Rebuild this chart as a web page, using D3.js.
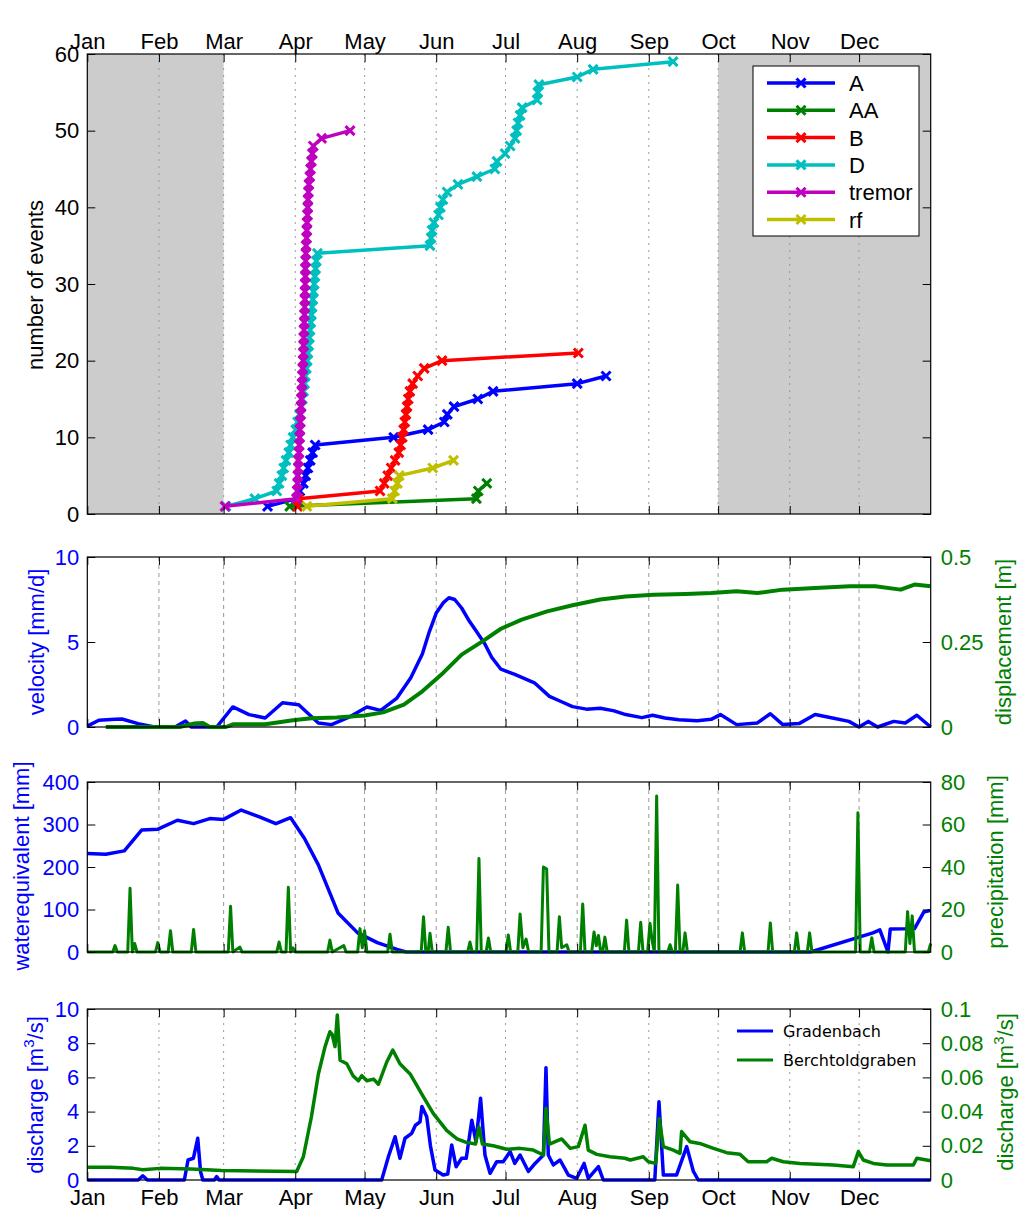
<!DOCTYPE html>
<html>
<head>
<meta charset="utf-8">
<script src="https://cdn.jsdelivr.net/npm/d3@7"></script>
<style>
body { margin: 0; background: #fff; }
text { font-family: "Liberation Sans", Arial, Helvetica, sans-serif; }
.tick text { font-size: 22px; }
.tick line { stroke: #000; }
</style>
</head>
<body>
<svg id="chart" width="1021" height="1209"></svg>
<script>
// ---- DATA ----
// x values are day of year (0 = 1 Jan)
var monthNames = ["Jan","Feb","Mar","Apr","May","Jun","Jul","Aug","Sep","Oct","Nov","Dec"];

// panel 1: event days, the count is cumulative
var seriesNames = ["A","AA","B","D","tremor","rf"];
var daysA = [78, 90.7, 92, 93.5, 94.5, 95.5, 96.5, 97.5, 98.6, 132.6, 147.5, 154.5, 155.8, 158.7, 169, 175.6, 212, 224.5];
var daysAA = [87.6, 168.4, 169.2, 172.9];
var daysB = [91, 91.4, 126.7, 128.5, 130, 131.5, 133.2, 134.8, 135.6, 136.3, 136.9, 137.4, 137.9, 138.4, 138.9, 139.6, 140.8, 143, 145.8, 153.5, 212.5];
var daysD = [60, 72.5, 82, 83, 84.2, 85, 86, 87.2, 88, 89,
             90.2, 91, 91.8, 92.5, 93.1, 93.6, 94, 94.4, 94.8, 95.2,
             95.5, 95.8, 96.1, 96.4, 96.7, 97, 97.3, 97.6, 97.9, 98.2,
             98.5, 98.8, 99.1, 99.6, 148.3, 148.8, 149.2, 150, 152, 152.8,
             153.9, 155.7, 160.4, 168.6, 176.4, 177.3, 180.8, 183, 185.1, 185.8,
             186.4, 187.3, 188.2, 194.7, 195, 195.4, 212, 218.9, 253.5];
var daysTremor = [59.6, 90.6, 90.8, 91, 91.1, 91.3, 91.4, 91.6, 91.7, 91.9,
                  92, 92.2, 92.3, 92.5, 92.6, 92.8, 92.9, 93.1, 93.2, 93.4,
                  93.5, 93.6, 93.7, 93.8, 93.9, 94, 94.1, 94.2, 94.2, 94.3,
                  94.4, 94.4, 94.5, 94.6, 94.7, 94.9, 95, 95.1, 95.3, 95.4,
                  95.5, 95.7, 95.9, 96.3, 96.6, 97, 97.4, 97.8, 101.4, 113.7];
var daysRf = [95, 132, 133, 134.2, 135, 149.5, 158.5];

// panel 2
var velocity = [[0,0.05],[5,0.4],[12,0.45],[15,0.47],[22,0.2],[29,0],[38,0],[42.5,0.35],[45,0],[56,0],
  [63,1.18],[70,0.73],[77,0.53],[84.5,1.43],[91.5,1.31],[100,0.24],[105.7,0.14],[114,0.63],[121,1.18],[127,0.98],
  [134,1.7],[140,2.9],[145,4.3],[148,5.6],[151,6.7],[154,7.3],[156.5,7.6],[159,7.5],[162,7],[165,6.3],
  [168,5.7],[172,4.9],[175,4.1],[179,3.4],[185,3.1],[193.5,2.6],[200,1.8],[205,1.5],[210,1.2],[216,1.05],
  [222,1.1],[228,0.95],[233,0.73],[240,0.55],[244.6,0.69],[250,0.53],[256,0.43],[264,0.37],[270,0.45],[274,0.73],
  [281,0.14],[290,0.24],[295.6,0.78],[301,0.14],[308,0.2],[315,0.73],[322.5,0.53],[329.6,0.33],[334,0],[338,0.33],
  [342,0],[349,0.33],[354,0.24],[359,0.69],[365,0]];
var displacement = [[8,0],[40,0],[46,0.01],[50,0.012],[53,0],[60,0],[63,0.008],[77,0.008],[89,0.02],[97,0.026],
  [108,0.028],[120,0.034],[128,0.043],[137,0.066],[145,0.105],[154,0.159],[162,0.213],[171,0.252],[179,0.289],[188,0.316],
  [199,0.34],[210,0.358],[222,0.375],[233,0.384],[245,0.389],[259,0.391],[270,0.394],[281,0.399],[290,0.394],[301,0.404],
  [315,0.409],[330,0.414],[341,0.414],[352,0.404],[358,0.419],[365,0.414]];

// panel 3
var waterEquivalent = [[0,232],[8,230],[16,238],[23.5,287],[30.6,289],[39,310],[46,302],[53,314],[59,312],[66.6,334],
  [74.5,318],[81.6,302],[88,316],[94,267],[100,205],[108.5,92],[117,45],[125.5,22],[134,6],[138,0],
  [313,0],[340,45],[343,52],[346.5,0],[347.5,54],[358,55],[362,94],[365,98]];
var precipitation = [[0,0],[11,0],[12,3],[13,0],[17.5,0],[18.5,30],[19.5,0],[20.5,4],[21.5,0],[29.5,0],[30.5,4.4],[31.5,0],
  [35,0],[36,10],[37,0],[45,0],[46,10.6],[47,0],[61,0],[62,21.5],[63,0],[66,2.3],[67,0],[82,0],[83,4.7],[84,0],
  [86,0],[87,30.5],[88,0],[89,2],[90,0],[104,0],[105,5.6],[106,0],[111,3],[112,0],[117,0],[118,11],[119,2],[120,10],[121,0],
  [130,0],[131,8.4],[132,0],[144.5,0],[145.5,16.6],[146.5,0],[147.5,0],[148.3,8.8],[149.3,0],[155.2,0],[156.2,11.6],[157.2,0],
  [164.6,0],[165.6,4.7],[166.6,0],[168.5,0],[169.5,44],[170.5,0],[172.6,0],[173.6,6.6],[174.6,0],[181.2,0],[182.2,8],[183.2,0],
  [186.3,0],[187.3,17.9],[188.5,2],[189.9,6.1],[191,0],[196.4,0],[197.4,40],[198.8,39],[199.8,0],[203.3,0],[204.3,16.6],
  [205.3,2],[207.5,3.4],[208.5,0],[213.4,0],[214.4,22.6],[215.4,0],[218.3,0],[219.3,9.4],[220.3,3],[221.2,7.8],[222.2,0],
  [223,0],[224,7],[225,0],[232.4,0],[233.4,15],[234.4,0],[238.5,0],[239.5,14],[240.5,0],[242.5,0],[243.5,13.5],[244.5,5],
  [245.4,0],[246.4,73.4],[247.4,0],[251.2,0],[252.2,3.4],[253.2,0],[254.5,0],[255.5,31.5],[256.5,0],[257.7,0],[258.7,9],
  [259.7,0],[282.5,0],[283.5,9],[284.5,0],[294.6,0],[295.6,13.7],[296.6,0],[306,0],[307,9],[308,0],[311.6,0],[312.6,9],
  [313.6,0],[332.5,0],[333.5,65.5],[334.5,0],[338.5,0],[339.5,6.7],[340.5,0],[354,0],[355,19],[356,4],[357,17],[358,0],
  [364,0],[365,4]];

// panel 4
var dischargeNames = ["Gradenbach","Berchtoldgraben"];
var gradenbach = [[0,0],[22,0],[24,0.25],[26,0],[42,0],[43.6,1.17],[45.9,1.27],[47.8,2.44],[49,0.5],[50,0],[55,0],[56,0.2],[57,0],
  [127.4,0],[130.3,1.36],[133.2,2.53],[135.3,1.27],[137.5,2.44],[140.4,2.73],[142,3.2],[144,3.4],[144.8,4.3],[146.9,3.7],
  [148.5,2],[150.5,0.58],[154,0.29],[156,0.35],[157.7,2.05],[159.6,0.78],[162,1.27],[164,1.27],[166.4,3.5],[168.2,2.24],
  [170.2,4.78],[172.1,1.46],[174.3,0.39],[177.2,1.07],[180,1.07],[183,1.66],[185,0.97],[187.3,1.46],[190.9,0.5],[193.8,0.97],
  [197.4,1.46],[198.5,6.57],[199.5,1.46],[201.7,0.88],[204.6,1.17],[208.2,0.29],[211.8,0.1],[215,0.97],[216.8,0.1],
  [221.2,0.78],[223.3,0],[245.6,0],[247.4,4.58],[249.3,0.29],[255,0.29],[259.4,1.95],[262.3,0.5],[264.4,0],[365,0]];
var berchtoldgraben = [[0,0.0075],[10,0.0075],[20,0.0068],[24,0.006],[31.5,0.0068],[45,0.0065],[58,0.0055],[90.6,0.005],
  [93.5,0.0136],[97,0.037],[100,0.062],[102.9,0.078],[105,0.0867],[106,0.085],[107.2,0.078],[108.2,0.0965],[109.4,0.07],
  [112.3,0.068],[115,0.061],[117.3,0.058],[118.8,0.061],[121,0.058],[123.9,0.059],[126,0.056],[129.6,0.069],[132.2,0.076],
  [135.3,0.068],[139.7,0.062],[145.4,0.0487],[149.7,0.039],[155.5,0.029],[160,0.024],[164,0.022],[168,0.021],[169.5,0.031],
  [171,0.021],[175.7,0.02],[181.5,0.018],[187.3,0.0185],[193,0.0175],[197.4,0.0146],[198.5,0.042],[200,0.021],[205.3,0.024],
  [209,0.0185],[212.5,0.0195],[215.4,0.032],[216.8,0.0175],[220.5,0.015],[226.2,0.0136],[232.7,0.0127],[235,0.0117],
  [240.6,0.0136],[242.8,0.0107],[246,0.0097],[247.5,0.036],[249.3,0.0195],[253.6,0.0175],[256.5,0.0156],[257.2,0.0283],
  [260.8,0.0224],[265,0.0214],[271,0.0185],[276.7,0.016],[282.5,0.015],[286,0.0107],[294,0.0107],[296.2,0.0127],
  [301.2,0.0107],[308.4,0.0097],[322.9,0.0088],[331.5,0.0078],[333.7,0.0166],[335.8,0.0117],[340.2,0.0097],[346,0.0088],
  [357.5,0.0088],[359,0.0127],[365,0.0113]];

// shaded winter periods (day ranges)
var shaded = [[0,59],[273,365]];

// ---- SETUP ----
var blue = "#0000ff", green = "#008000";
var seriesColors = {A:"#0000ff", AA:"#008000", B:"#ff0000", D:"#00bfbf", tremor:"#bf00bf", rf:"#bfbf00"};

var t0 = Date.UTC(2010, 0, 1);
function toDate(d){ return new Date(t0 + d*864e5); }

var svg = d3.select("#chart");
var x = d3.scaleUtc().domain([toDate(0), toDate(365)]).range([87.3, 930.7]);
var months = d3.utcMonth.range(toDate(0), toDate(365));

var panels = [
  {top:54, bottom:514},
  {top:557, bottom:727},
  {top:782, bottom:952},
  {top:1009, bottom:1180}
];

function monthLabel(d, i){ return monthNames[i]; }

//grid lines go under the data
function drawGrid(p, dash){
  svg.append("g").selectAll("line")
     .data(months.slice(1))
     .enter().append("line")
     .attr("x1", function(d){ return x(d); })
     .attr("x2", function(d){ return x(d); })
     .attr("y1", p.top).attr("y2", p.bottom)
     .attr("stroke", "#9a9a9a")
     .attr("stroke-width", 1)
     .attr("stroke-dasharray", dash);
}

//box + month ticks on top and bottom
function drawFrame(p, topLabels, bottomLabels){
  svg.append("rect")
     .attr("x", x.range()[0]).attr("y", p.top)
     .attr("width", x.range()[1]-x.range()[0])
     .attr("height", p.bottom-p.top)
     .attr("fill", "none").attr("stroke", "#000").attr("stroke-width", 1.2);

  var top = svg.append("g").attr("transform", "translate(0,"+p.top+")")
     .call(d3.axisTop(x).tickValues(months).tickSize(-8).tickSizeOuter(0).tickPadding(5)
       .tickFormat(topLabels ? monthLabel : ""));
  top.select(".domain").remove();

  var bot = svg.append("g").attr("transform", "translate(0,"+p.bottom+")")
     .call(d3.axisBottom(x).tickValues(months).tickSize(-8).tickSizeOuter(0).tickPadding(9)
       .tickFormat(bottomLabels ? monthLabel : ""));
  bot.select(".domain").remove();
  [top, bot].forEach(function(a){
    a.selectAll("text").attr("fill", "#000").style("font-size", "22px");
  });
}

function leftAxis(y, ticks, color, fmt){
  var g = svg.append("g").attr("transform", "translate("+x.range()[0]+",0)")
     .call(d3.axisLeft(y).tickValues(ticks).tickSize(-8).tickSizeOuter(0).tickPadding(8)
       .tickFormat(fmt || function(d){ return d; }));
  g.select(".domain").remove();
  g.selectAll("text").attr("fill", color);
}

function rightAxis(y, ticks, color, fmt){
  var g = svg.append("g").attr("transform", "translate("+x.range()[1]+",0)")
     .call(d3.axisRight(y).tickValues(ticks).tickSize(-8).tickSizeOuter(0).tickPadding(10)
       .tickFormat(fmt === undefined ? function(d){ return d; } : fmt));
  g.select(".domain").remove();
  g.selectAll("text").attr("fill", color);
}

function axisTitle(px, py, color, parts){
  var t = svg.append("text")
     .attr("transform", "translate("+px+","+py+") rotate(-90)")
     .attr("text-anchor", "middle")
     .attr("fill", color)
     .style("font-size", "22px");
  parts.forEach(function(s){
    if(s === "3"){
      t.append("tspan").attr("dy", -9).style("font-size", "15px").text("3");
    } else {
      t.append("tspan").attr("dy", s.charAt(0) === "/" ? 9 : 0).text(s);
    }
  });
}

function drawLine(data, y, color, width){
  var line = d3.line()
     .x(function(d){ return x(toDate(d[0])); })
     .y(function(d){ return y(d[1]); });
  svg.append("path")
     .datum(data)
     .attr("d", line)
     .attr("fill", "none")
     .attr("stroke", color)
     .attr("stroke-width", width)
     .attr("stroke-linejoin", "round");
}

var cross = "M-4.5,-4.5L4.5,4.5M-4.5,4.5L4.5,-4.5";

// ---- PANEL 1: cumulative events ----
var p1 = panels[0];
var y1 = d3.scaleLinear().domain([0, 60]).range([p1.bottom, p1.top]);

svg.append("g").selectAll("rect")
   .data(shaded).enter().append("rect")
   .attr("x", function(d){ return x(toDate(d[0])); })
   .attr("width", function(d){ return x(toDate(d[1])) - x(toDate(d[0])); })
   .attr("y", p1.top).attr("height", p1.bottom - p1.top)
   .attr("fill", "#cccccc");

drawGrid(p1, "2,5");

var eventDays = [daysA, daysAA, daysB, daysD, daysTremor, daysRf];
seriesNames.forEach(function(name, k){
  var pts = eventDays[k].map(function(d, i){ return [d, i + 1]; });
  drawLine(pts, y1, seriesColors[name], 3.5);
  svg.append("g").selectAll("path")
     .data(pts).enter().append("path")
     .attr("d", cross)
     .attr("transform", function(d){ return "translate("+x(toDate(d[0]))+","+y1(d[1])+")"; })
     .attr("fill", "none")
     .attr("stroke", seriesColors[name])
     .attr("stroke-width", 3);
});

drawFrame(p1, true, false);
leftAxis(y1, [0,10,20,30,40,50,60], "#000");
rightAxis(y1, [0,10,20,30,40,50,60], "#000", "");
axisTitle(43, 285, "#000", ["number of events"]);

//legend
var lg = svg.append("g").attr("transform", "translate(753,66)");
lg.append("rect").attr("width", 166).attr("height", 170)
  .attr("fill", "#fff").attr("stroke", "#000").attr("stroke-width", 1);
seriesNames.forEach(function(name, i){
  var ly = 17 + i*27.3;
  lg.append("line").attr("x1", 14).attr("x2", 82).attr("y1", ly).attr("y2", ly)
    .attr("stroke", seriesColors[name]).attr("stroke-width", 3.5);
  lg.append("path").attr("d", cross).attr("transform", "translate(48,"+ly+")")
    .attr("fill", "none").attr("stroke", seriesColors[name]).attr("stroke-width", 3);
  lg.append("text").attr("x", 96).attr("y", ly + 8).style("font-size", "22px").text(name);
});

// ---- PANEL 2: velocity / displacement ----
var p2 = panels[1];
var y2L = d3.scaleLinear().domain([0, 10]).range([p2.bottom, p2.top]);
var y2R = d3.scaleLinear().domain([0, 0.5]).range([p2.bottom, p2.top]);
drawGrid(p2, "4,4");
drawLine(velocity, y2L, blue, 3.5);
drawLine(displacement, y2R, green, 4);
drawFrame(p2, false, false);
leftAxis(y2L, [0,5,10], blue);
rightAxis(y2R, [0,0.25,0.5], green);
axisTitle(44, 642, blue, ["velocity [mm/d]"]);
axisTitle(1011, 642, green, ["displacement [m]"]);

// ---- PANEL 3: water equivalent / precipitation ----
var p3 = panels[2];
var y3L = d3.scaleLinear().domain([0, 400]).range([p3.bottom, p3.top]);
var y3R = d3.scaleLinear().domain([0, 80]).range([p3.bottom, p3.top]);
drawGrid(p3, "4,4");
drawLine(waterEquivalent, y3L, blue, 3.5);
drawLine(precipitation, y3R, green, 3);
drawFrame(p3, false, false);
leftAxis(y3L, [0,100,200,300,400], blue);
rightAxis(y3R, [0,20,40,60,80], green);
axisTitle(29, 866, blue, ["waterequivalent [mm]"]);
axisTitle(1003, 862, green, ["precipitation [mm]"]);

// ---- PANEL 4: discharge ----
var p4 = panels[3];
var y4L = d3.scaleLinear().domain([0, 10]).range([p4.bottom, p4.top]);
var y4R = d3.scaleLinear().domain([0, 0.1]).range([p4.bottom, p4.top]);
drawGrid(p4, "2,5");
drawLine(gradenbach, y4L, blue, 3.5);
drawLine(berchtoldgraben, y4R, green, 3.5);
drawFrame(p4, false, true);
leftAxis(y4L, [0,2,4,6,8,10], blue);
rightAxis(y4R, [0,0.02,0.04,0.06,0.08,0.1], green);
axisTitle(43, 1095, blue, ["discharge [m", "3", "/s]"]);
axisTitle(1013, 1092, green, ["discharge [m", "3", "/s]"]);

var lg4 = svg.append("g").attr("transform", "translate(737,1031)");
[blue, green].forEach(function(c, i){
  lg4.append("line").attr("x1", 0).attr("x2", 36).attr("y1", i*29).attr("y2", i*29)
     .attr("stroke", c).attr("stroke-width", 3);
  lg4.append("text").attr("x", 46).attr("y", i*29 + 6)
     .style("font-family", "'DejaVu Sans', sans-serif").style("font-size", "16px")
     .text(dischargeNames[i]);
});
</script>
</body>
</html>
